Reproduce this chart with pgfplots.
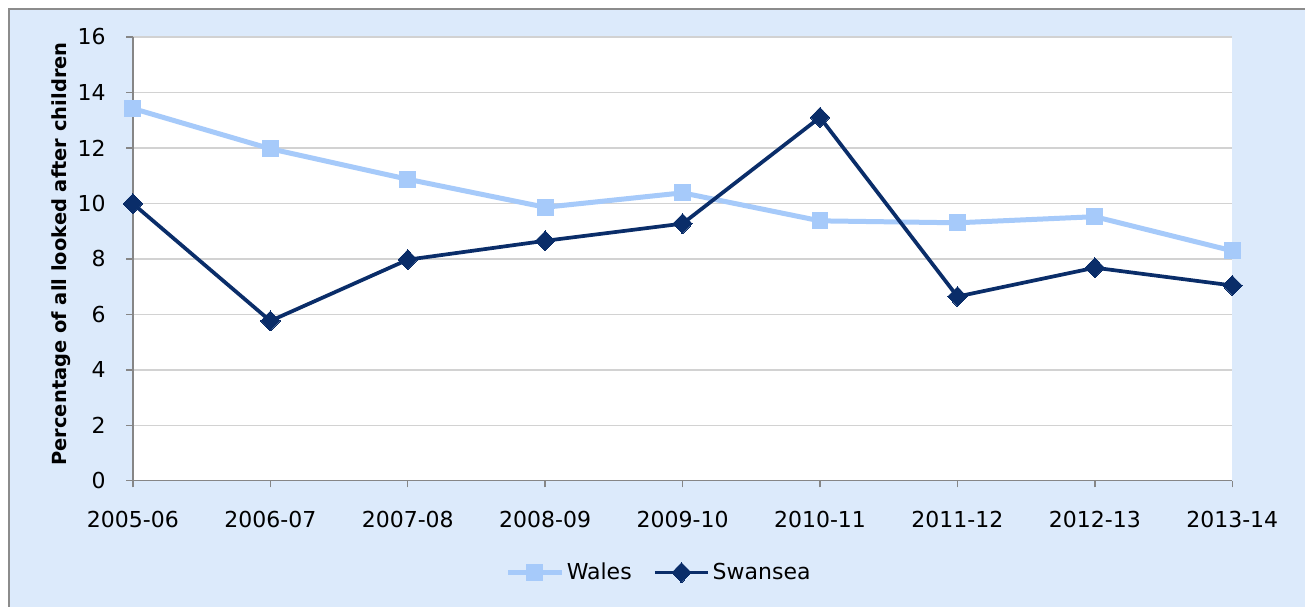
\documentclass[border=0pt]{standalone}
\usepackage{fontspec}
\setmainfont{DejaVu Sans}
\usepackage{pgfplots}
\pgfplotsset{compat=1.18}
\definecolor{bgblue}{RGB}{220,234,251}
\definecolor{walesc}{RGB}{166,202,250}
\definecolor{swanc}{RGB}{10,45,105}
\definecolor{gridc}{RGB}{210,210,210}
\definecolor{axisc}{RGB}{134,134,134}
\definecolor{framec}{RGB}{140,140,140}
\begin{document}
\begin{tikzpicture}
\fill[white] (-99.75pt,-94.5pt) rectangle (879.75pt,360.75pt);
\fill[bgblue] (-93pt,-94.5pt) rectangle (879.75pt,354pt);
\draw[framec, line width=1.2pt] (-93pt,-94.5pt) -- (-93pt,354pt) -- (879.75pt,354pt);
\begin{axis}[
  at={(0pt,0pt)}, anchor=south west,
  scale only axis, width=825pt, height=333pt,
  xmin=0, xmax=8, ymin=0, ymax=16,
  xtick={0,...,8},
  xticklabels={2005-06,2006-07,2007-08,2008-09,2009-10,2010-11,2011-12,2012-13,2013-14},
  ytick={0,2,...,16},
  axis lines*=left,
  axis line style={axisc, line width=1.1pt},
  ymajorgrids, grid style={gridc, line width=1.1pt},
  axis background/.style={fill=white},
  tick align=outside, major tick length=5pt,
  tick style={axisc, line width=1.1pt},
  /pgf/number format/assume math mode=true,
  tick label style={font=\fontsize{16.5}{19}\selectfont, black},
  xticklabel style={yshift=-14pt},
  yticklabel style={xshift=-12pt},
  ylabel={\textbf{Percentage of all looked after children}},
  ylabel style={at={(axis description cs:-0.0655,0.511)}, anchor=center, font=\fontsize{14.6}{17}\selectfont},
  clip=false,
  legend columns=2,
  legend style={at={(axis description cs:0.479,-0.207)}, anchor=center, draw=none, fill=none,
    font=\fontsize{16.5}{19}\selectfont, /tikz/every even column/.append style={column sep=14pt}},
  legend image code/.code={\draw[mark repeat=2,mark phase=2,#1] plot coordinates {(0pt,0pt) (20pt,0pt) (40pt,0pt)};},
]
\addplot[color=walesc, line width=3.75pt, mark=square*, mark size=6pt, mark options={solid, line width=0pt}]
coordinates {(0,13.42) (1,11.97) (2,10.87) (3,9.86) (4,10.38) (5,9.37) (6,9.3) (7,9.52) (8,8.29)};
\addlegendentry{Wales}
\addplot[color=swanc, line width=2.8pt, mark=diamond*, mark size=7.5pt, mark options={solid, line width=0pt, xscale=1.3}]
coordinates {(0,9.99) (1,5.76) (2,7.97) (3,8.65) (4,9.27) (5,13.1) (6,6.64) (7,7.68) (8,7.04)};
\addlegendentry{Swansea}
\end{axis}
\end{tikzpicture}
\end{document}
